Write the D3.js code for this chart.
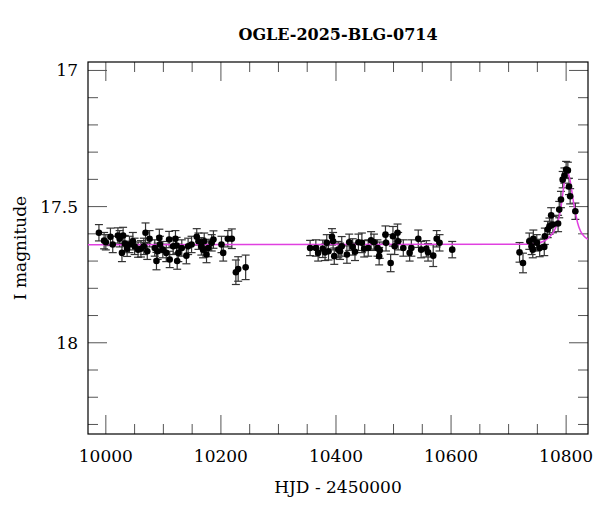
<!DOCTYPE html>
<html><head><meta charset="utf-8">
<script src="https://cdn.jsdelivr.net/npm/d3@7"></script>
<style>body{margin:0;background:#fff}</style>
</head><body><svg id="c" width="600" height="512"></svg>
<script>
const title = "OGLE-2025-BLG-0714";
const hjd = [9988,9997,10000,10008,10012,10021,10024,10030,10028,10033,10037,10041,10047,10050,10056,10061,10066,10069,10072,10076,10085,10088,10090,10093,10094,10099,10105,10110,10111,10117,10121,10123,10126,10132,10124,10140,10143,10149,10158,10161,10166,10169,10171,10175,10178,10184,10187,10201,10204,10212,10219,10226,10230,10243,
10355,10365,10369,10377,10381,10384,10387,10393,10395,10397,10404,10407,10410,10419,10423,10429,10433,10439,10445,10449,10456,10461,10466,10472,10475,10476,10486,10487,10495,10499,10502,10507,10508,10517,10528,10531,10543,10548,10557,10560,10569,10575,10580,10602,
10719,10725,10736,10740,10743,10742,10749,10754,10762,10763,10768,10771,10774,10777,10786,10788,10791,10794,10797,10800,10803,10805,10807,10816];
const mag = [17.596,17.625,17.631,17.611,17.639,17.606,17.618,17.606,17.670,17.636,17.655,17.639,17.627,17.646,17.658,17.655,17.646,17.596,17.664,17.618,17.652,17.700,17.664,17.615,17.639,17.658,17.670,17.621,17.694,17.646,17.618,17.643,17.670,17.652,17.700,17.680,17.646,17.639,17.611,17.627,17.646,17.658,17.627,17.676,17.652,17.633,17.621,17.639,17.670,17.618,17.618,17.741,17.729,17.723,
17.652,17.652,17.670,17.655,17.668,17.633,17.664,17.611,17.627,17.682,17.658,17.664,17.646,17.676,17.631,17.648,17.666,17.631,17.633,17.655,17.652,17.624,17.631,17.652,17.682,17.660,17.603,17.633,17.707,17.609,17.646,17.596,17.627,17.652,17.670,17.652,17.618,17.658,17.655,17.668,17.680,17.618,17.633,17.658,
17.668,17.707,17.627,17.646,17.618,17.658,17.633,17.652,17.648,17.609,17.584,17.572,17.532,17.566,17.562,17.511,17.474,17.401,17.386,17.364,17.367,17.426,17.462,17.517];
const err = [0.030,0.030,0.028,0.032,0.030,0.028,0.030,0.030,0.032,0.030,0.028,0.030,0.032,0.030,0.028,0.030,0.030,0.036,0.030,0.030,0.030,0.032,0.030,0.032,0.030,0.030,0.032,0.030,0.030,0.030,0.030,0.030,0.032,0.030,0.030,0.030,0.030,0.030,0.030,0.030,0.032,0.030,0.030,0.030,0.032,0.030,0.032,0.030,0.030,0.030,0.036,0.045,0.045,0.045,
0.028,0.030,0.030,0.032,0.030,0.030,0.032,0.030,0.032,0.030,0.030,0.030,0.036,0.032,0.030,0.030,0.032,0.030,0.036,0.030,0.030,0.032,0.030,0.030,0.032,0.030,0.032,0.030,0.032,0.036,0.030,0.032,0.032,0.030,0.030,0.030,0.032,0.030,0.030,0.032,0.040,0.030,0.030,0.030,
0.036,0.036,0.030,0.030,0.032,0.030,0.030,0.032,0.032,0.030,0.030,0.030,0.028,0.030,0.030,0.030,0.030,0.030,0.028,0.030,0.030,0.030,0.028,0.030];
const modelT = [9969,10740,10755,10765,10772,10779,10784,10790,10795,10798,10801,10804,10807,10810,10813,10817,10820,10825,10830,10838];
const modelM = [17.640,17.638,17.632,17.622,17.609,17.590,17.566,17.517,17.440,17.395,17.370,17.380,17.405,17.445,17.486,17.530,17.560,17.590,17.606,17.620];
const xMajor = [10000,10200,10400,10600,10800];
const yMajor = [17,17.5,18];

const svg = d3.select("#c");
const L=88,R=588,T=62,B=434;
const x = d3.scaleLinear().domain([9969,10838]).range([L,R]);
const y = d3.scaleLinear().domain([16.969,18.335]).range([T,B]);
const font = "'DejaVu Serif', serif";
const g = svg.append("g");
g.append("defs").append("clipPath").attr("id","cp").append("rect").attr("x",L).attr("y",T).attr("width",R-L).attr("height",B-T);

const xMinor = d3.range(10000,10838,50).filter(v=>!xMajor.includes(v));
const yMinor = d3.range(17,18.34,0.1).map(v=>+v.toFixed(1)).filter(v=>!yMajor.includes(v));
const tc="#555";
[[xMajor,19],[xMinor,10]].forEach(([arr,len])=>{
  arr.forEach(v=>{
    g.append("line").attr("x1",x(v)).attr("x2",x(v)).attr("y1",B).attr("y2",B-len).attr("stroke",tc);
    g.append("line").attr("x1",x(v)).attr("x2",x(v)).attr("y1",T).attr("y2",T+len).attr("stroke",tc);
  });
});
[[yMajor,19],[yMinor,10]].forEach(([arr,len])=>{
  arr.forEach(v=>{
    g.append("line").attr("y1",y(v)).attr("y2",y(v)).attr("x1",L).attr("x2",L+len).attr("stroke",tc);
    g.append("line").attr("y1",y(v)).attr("y2",y(v)).attr("x1",R).attr("x2",R-len).attr("stroke",tc);
  });
});
g.append("rect").attr("x",L).attr("y",T).attr("width",R-L).attr("height",B-T).attr("fill","none").attr("stroke","#000").attr("stroke-width",1.2);

xMajor.forEach(v=>g.append("text").attr("x",x(v)).attr("y",B+28).attr("text-anchor","middle").attr("font-family",font).attr("font-size",17).text(v));
yMajor.forEach(v=>g.append("text").attr("x",L-10).attr("y",y(v)+6).attr("text-anchor","end").attr("font-family",font).attr("font-size",17).text(v));
svg.append("text").attr("x",338).attr("y",493).attr("text-anchor","middle").attr("font-family",font).attr("font-size",17).text("HJD - 2450000");
svg.append("text").attr("transform","translate(26,248) rotate(-90)").attr("text-anchor","middle").attr("font-family",font).attr("font-size",17).text("I magnitude");
svg.append("text").attr("x",338).attr("y",40).attr("text-anchor","middle").attr("font-family",font).attr("font-size",16).attr("font-weight","bold").text(title);

const pts = hjd.map((t,i)=>({t,m:mag[i],e:err[i]}));
const pg = g.append("g").attr("clip-path","url(#cp)");
pts.forEach(p=>{
  const cx=x(p.t), y1=y(p.m-p.e), y2=y(p.m+p.e);
  pg.append("line").attr("x1",cx).attr("x2",cx).attr("y1",y1).attr("y2",y2).attr("stroke","#333").attr("stroke-width",1.2);
  pg.append("line").attr("x1",cx-4).attr("x2",cx+4).attr("y1",y1).attr("y2",y1).attr("stroke","#333").attr("stroke-width",1.2);
  pg.append("line").attr("x1",cx-4).attr("x2",cx+4).attr("y1",y2).attr("y2",y2).attr("stroke","#333").attr("stroke-width",1.2);
});
pg.append("path").datum(modelT.map((t,i)=>[t,modelM[i]]))
  .attr("d",d3.line().x(d=>x(d[0])).y(d=>y(d[1])).curve(d3.curveMonotoneX))
  .attr("fill","none").attr("stroke","#e040e0").attr("stroke-width",1.5);
pts.forEach(p=>pg.append("circle").attr("cx",x(p.t)).attr("cy",y(p.m)).attr("r",3.3).attr("fill","#000"));
</script></body></html>
